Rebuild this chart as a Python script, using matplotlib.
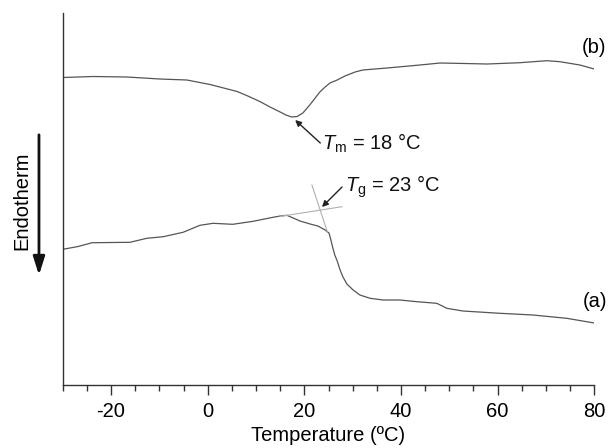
import matplotlib
matplotlib.use("Agg")
import matplotlib.pyplot as plt
from matplotlib.patches import FancyArrowPatch
from matplotlib.ticker import MultipleLocator

plt.rcParams['font.family'] = ['Liberation Sans', 'DejaVu Sans']
plt.rcParams['mathtext.fontset'] = 'custom'
plt.rcParams['mathtext.rm'] = 'Liberation Sans'
plt.rcParams['mathtext.it'] = 'Liberation Sans:italic'
plt.rcParams['axes.unicode_minus'] = False

# Curve (b)
temp_b = [-30.0, -23.7, -16.7, -9.9, -4.3, 0.5, 6.1, 8.3, 10.8, 12.9, 15.0, 16.2,
          17.4, 18.5, 19.7, 21.2, 22.4, 23.2, 24.3, 25.3, 26.8, 28.4, 30.5, 32.1,
          37.1, 43.9, 48.1, 53.2, 57.8, 64.6, 70.2, 72.9, 77.0, 80.0]
heat_b = [30.75, 30.85, 30.8, 30.6, 30.5, 30.05, 29.35, 28.9, 28.35, 27.8, 27.3, 27.0,
          26.8, 26.85, 27.2, 28.05, 28.8, 29.3, 29.8, 30.2, 30.5, 30.9, 31.3, 31.5,
          31.7, 32.0, 32.2, 32.15, 32.1, 32.23, 32.43, 32.33, 32.0, 31.6]

# Curve (a)
temp_a = [-30.0, -27.0, -23.9, -16.1, -12.6, -9.2, -5.1, -1.6, 1.1, 5.2, 9.4, 13.5,
          15.0, 16.4, 17.7, 19.1, 21.2, 22.8, 24.3, 25.1, 25.5, 25.9, 26.3, 26.8,
          27.4, 28.0, 28.8, 30.1, 31.5, 33.6, 36.3, 39.8, 43.3, 47.4, 49.5, 52.8,
          60.5, 67.3, 74.3, 80.0]
heat_a = [13.57, 13.83, 14.23, 14.27, 14.67, 14.83, 15.27, 15.97, 16.17, 16.07, 16.37, 16.77,
          16.9, 16.97, 16.7, 16.4, 16.1, 15.9, 15.5, 15.2, 14.5, 13.7, 13.0, 12.4,
          11.5, 10.8, 10.1, 9.5, 9.0, 8.67, 8.5, 8.5, 8.33, 8.17, 7.67, 7.4,
          7.17, 7.0, 6.67, 6.2]

# Tangent lines for Tg construction
tan1_t = [15.0, 27.8]
tan1_y = [16.86, 17.83]
tan2_t = [21.57, 24.75]
tan2_y = [20.0, 15.33]

xticks = [-20, 0, 20, 40, 60, 80]

fig = plt.figure(figsize=(6.08, 4.48), dpi=100)
ax = fig.add_axes([0.1031, 0.1406, 0.8744, 0.8297])

ax.plot(temp_b, heat_b, color='#555555', lw=0.9)
ax.plot(temp_a, heat_a, color='#555555', lw=0.9)
ax.plot(tan1_t, tan1_y, color='#b0b0b0', lw=0.8)
ax.plot(tan2_t, tan2_y, color='#b0b0b0', lw=0.8)

ax.set_xlim(-30, 80)
ax.set_ylim(0, 37.17)
ax.set_xticks(xticks)
ax.xaxis.set_minor_locator(MultipleLocator(5))
ax.set_yticks([])
for s in ['top', 'right']:
    ax.spines[s].set_visible(False)
for s in ['left', 'bottom']:
    ax.spines[s].set_color('#333333')
    ax.spines[s].set_linewidth(1.0)
ax.tick_params(axis='x', which='major', direction='out', length=7, width=1.0,
               color='#333333', labelsize=14.5, pad=5)
ax.tick_params(axis='x', which='minor', direction='out', length=4, width=1.0,
               color='#333333')
ax.set_xlabel('Temperature (ºC)', fontsize=14.5, labelpad=4)

ax.annotate('', xy=(18.1, 26.5), xytext=(23.3, 24.2),
            arrowprops=dict(arrowstyle='-|>', color='#222222', lw=1.0,
                            mutation_scale=9, shrinkA=0, shrinkB=0))
ax.text(23.65, 23.5, r'$T_{\mathrm{m}}$ = 18 °C', fontsize=14.5, ha='left',
        va='baseline', color='#111111')

ax.annotate('', xy=(23.65, 17.8), xytext=(27.8, 19.8),
            arrowprops=dict(arrowstyle='-|>', color='#222222', lw=1.0,
                            mutation_scale=9, shrinkA=0, shrinkB=0))
ax.text(28.4, 19.3, r'$T_{\mathrm{g}}$ = 23 °C', fontsize=14.5, ha='left',
        va='baseline', color='#111111')

ax.text(82.4, 33.8, '(b)', fontsize=14.5, ha='right', va='center', clip_on=False)
ax.text(82.6, 8.35, '(a)', fontsize=14.5, ha='right', va='center', clip_on=False)

fig.text(0.036, 0.551, 'Endotherm', rotation=90, fontsize=14.5, ha='center', va='center')
arr = FancyArrowPatch((0.0641, 0.699), (0.0641, 0.386), transform=fig.transFigure,
                      arrowstyle='-|>,head_length=1.1,head_width=0.35', mutation_scale=10,
                      lw=2.0, color='#111111', shrinkA=0, shrinkB=0)
fig.patches.append(arr)

fig.savefig('out.png', dpi=100)
